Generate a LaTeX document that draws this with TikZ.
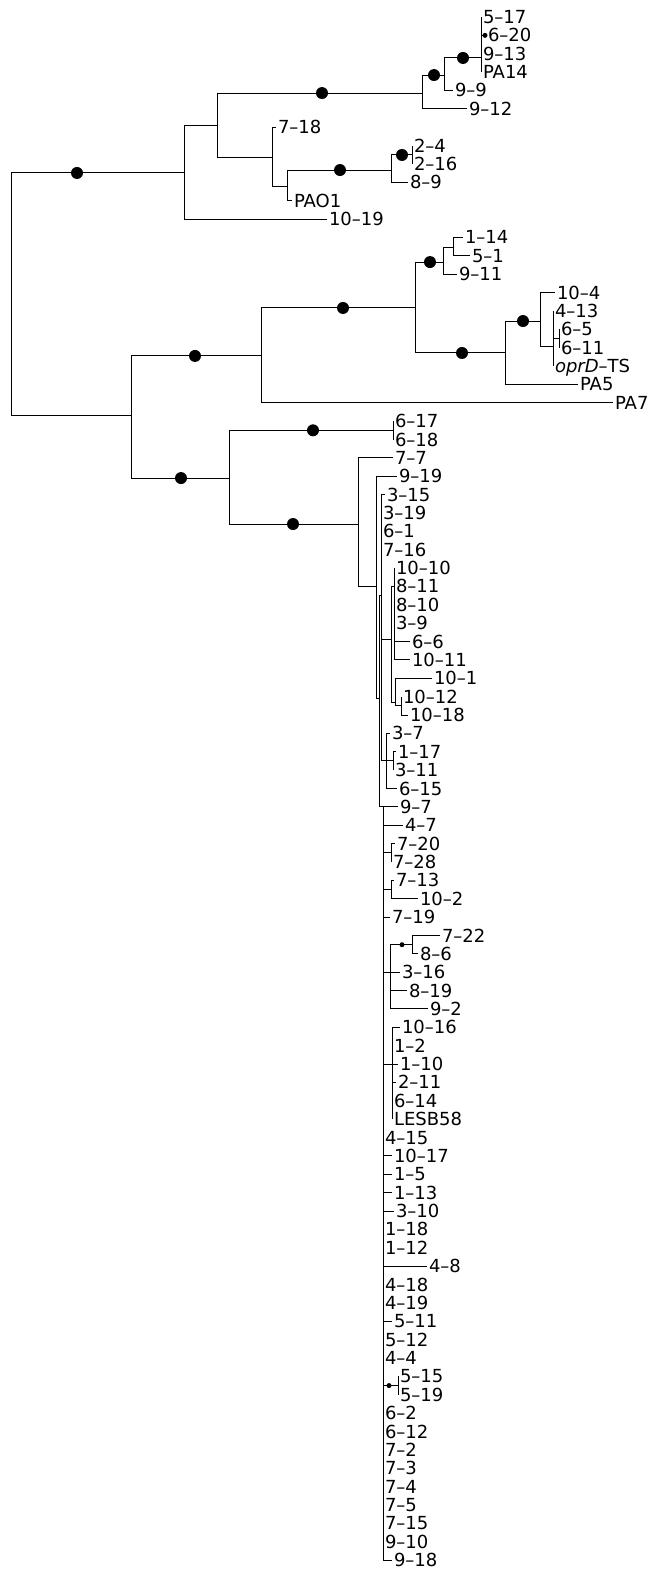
\documentclass[tikz,border=0pt]{standalone}
\usepackage{fontspec}
\setmainfont{DejaVu Sans}

\begin{document}
\begin{tikzpicture}[x=1pt, y=-18.37pt, line width=1pt,
  leaf/.style={anchor=west, inner sep=1.5pt, font=\fontsize{18}{18}\selectfont,
    text height=13pt, text depth=0pt}]
  \useasboundingbox (0,0.0746) rectangle (653,85.54);

  % internal nodes (x in px, y in leaf rows)
  \coordinate (R0) at (11,16);
  \coordinate (A)  at (184,9.49);
  \coordinate (A1) at (217,6.88);
  \coordinate (A2) at (422,5.14);
  \coordinate (A4) at (444,4.16);
  \coordinate (A5) at (481,3.23);
  \coordinate (A3) at (272,8.67);
  \coordinate (A6) at (287,10.25);
  \coordinate (A7) at (391,9.33);
  \coordinate (A8) at (412,8.51);
  \coordinate (B)  at (131,22.67);
  \coordinate (B1) at (261,19.45);
  \coordinate (B3) at (415,16.84);
  \coordinate (B4) at (443,14.34);
  \coordinate (B6) at (453,13.57);
  \coordinate (B5) at (505,19.29);
  \coordinate (B7) at (540,17.55);
  \coordinate (B8) at (553,18.96);
  \coordinate (B9) at (559,18.5);
  \coordinate (B2) at (229,26.1);
  \coordinate (C1) at (393,23.5);
  \coordinate (C2) at (358,28.6);
  \coordinate (D1) at (376,32);
  \coordinate (D2) at (379,38.1);
  \coordinate (D3) at (381,32.5);
  \coordinate (D4) at (391,34.9);
  \coordinate (D5) at (394,32);
  \coordinate (D6) at (395,38.3);
  \coordinate (D7) at (401,38.5);
  \coordinate (E1) at (386,41.5);
  \coordinate (E8) at (393,41.5);
  \coordinate (S0) at (383,44);
  \coordinate (E2) at (391,46.5);
  \coordinate (E3) at (391,48.5);
  \coordinate (E4) at (390,53);
  \coordinate (E7) at (412,51.5);
  \coordinate (E5) at (392,58);
  \coordinate (E6) at (398,75.5);

  % branches between internal nodes
  \draw (R0) |- (A);  \draw (R0) |- (B);
  \draw (A) |- (A1);
  \draw (A1) |- (A2); \draw (A1) |- (A3);
  \draw (A2) |- (A4); \draw (A4) |- (A5);
  \draw (A3) |- (A6); \draw (A6) |- (A7); \draw (A7) |- (A8);
  \draw (B) |- (B1);  \draw (B) |- (B2);
  \draw (B1) |- (B3); \draw (B3) |- (B4); \draw (B3) |- (B5);
  \draw (B4) |- (B6); \draw (B5) |- (B7); \draw (B7) |- (B8); \draw (B8) |- (B9);
  \draw (B2) |- (C1); \draw (B2) |- (C2);
  \draw (C2) |- (D1); \draw (D1) |- (D2); \draw (D2) |- (D3); \draw (D2) |- (S0);
  \draw (D3) |- (D4); \draw (D3) |- (E1);
  \draw (D4) |- (D5); \draw (D4) |- (D6); \draw (D6) |- (D7);
  \draw (E1) |- (E8);
  \draw (S0) |- (E2); \draw (S0) |- (E3); \draw (S0) |- (E4);
  \draw (S0) |- (E5); \draw (S0) |- (E6);
  \draw (E4) |- (E7);

  % leaves: row/tip x/label, per parent
  \foreach \r/\x/\lab in {1/481/5--17, 2/486/6--20, 3/481/9--13, 4/481/PA14}
    {\node[leaf] (l\r) at (\x,\r) {\lab}; \draw (A5) |- (l\r.west);}
  \node[leaf] (l5) at (453,5) {9--9};    \draw (A4) |- (l5.west);
  \node[leaf] (l6) at (467,6) {9--12};   \draw (A2) |- (l6.west);
  \node[leaf] (l7) at (276,7) {7--18};   \draw (A3) |- (l7.west);
  \foreach \r/\x/\lab in {8/412/2--4, 9/412/2--16}
    {\node[leaf] (l\r) at (\x,\r) {\lab}; \draw (A8) |- (l\r.west);}
  \node[leaf] (l10) at (408,10) {8--9};  \draw (A7) |- (l10.west);
  \node[leaf] (l11) at (292,11) {PAO1};  \draw (A6) |- (l11.west);
  \node[leaf] (l12) at (327,12) {10--19}; \draw (A) |- (l12.west);
  \foreach \r/\x/\lab in {13/463/1--14, 14/470/5--1}
    {\node[leaf] (l\r) at (\x,\r) {\lab}; \draw (B6) |- (l\r.west);}
  \node[leaf] (l15) at (457,15) {9--11}; \draw (B4) |- (l15.west);
  \node[leaf] (l16) at (555,16) {10--4}; \draw (B7) |- (l16.west);
  \foreach \r/\x/\lab in {17/553/4--13, 20/553/\textit{oprD}--TS}
    {\node[leaf] (l\r) at (\x,\r) {\lab}; \draw (B8) |- (l\r.west);}
  \foreach \r/\x/\lab in {18/559/6--5, 19/559/6--11}
    {\node[leaf] (l\r) at (\x,\r) {\lab}; \draw (B9) |- (l\r.west);}
  \node[leaf] (l21) at (578,21) {PA5};   \draw (B5) |- (l21.west);
  \node[leaf] (l22) at (613,22) {PA7};   \draw (B1) |- (l22.west);
  \foreach \r/\x/\lab in {23/393/6--17, 24/393/6--18}
    {\node[leaf] (l\r) at (\x,\r) {\lab}; \draw (C1) |- (l\r.west);}
  \node[leaf] (l25) at (393,25) {7--7};  \draw (C2) |- (l25.west);
  \node[leaf] (l26) at (397,26) {9--19}; \draw (D1) |- (l26.west);
  \foreach \r/\x/\lab in {27/385/3--15, 28/381/3--19, 29/381/6--1, 30/381/7--16}
    {\node[leaf] (l\r) at (\x,\r) {\lab}; \draw (D3) |- (l\r.west);}
  \foreach \r/\x/\lab in {31/394/10--10, 32/394/8--11, 33/394/8--10, 34/394/3--9,
      35/410/6--6, 36/410/10--11}
    {\node[leaf] (l\r) at (\x,\r) {\lab}; \draw (D5) |- (l\r.west);}
  \node[leaf] (l37) at (432,37) {10--1}; \draw (D6) |- (l37.west);
  \foreach \r/\x/\lab in {38/401/10--12, 39/408/10--18}
    {\node[leaf] (l\r) at (\x,\r) {\lab}; \draw (D7) |- (l\r.west);}
  \foreach \r/\x/\lab in {40/390/3--7, 43/397/6--15}
    {\node[leaf] (l\r) at (\x,\r) {\lab}; \draw (E1) |- (l\r.west);}
  \foreach \r/\x/\lab in {41/396/1--17, 42/393/3--11}
    {\node[leaf] (l\r) at (\x,\r) {\lab}; \draw (E8) |- (l\r.west);}
  \foreach \r/\x/\lab in {46/395/7--20, 47/391/7--28}
    {\node[leaf] (l\r) at (\x,\r) {\lab}; \draw (E2) |- (l\r.west);}
  \foreach \r/\x/\lab in {48/394/7--13, 49/418/10--2}
    {\node[leaf] (l\r) at (\x,\r) {\lab}; \draw (E3) |- (l\r.west);}
  \foreach \r/\x/\lab in {51/440/7--22, 52/418/8--6}
    {\node[leaf] (l\r) at (\x,\r) {\lab}; \draw (E7) |- (l\r.west);}
  \foreach \r/\x/\lab in {53/400/3--16, 54/407/8--19, 55/428/9--2}
    {\node[leaf] (l\r) at (\x,\r) {\lab}; \draw (E4) |- (l\r.west);}
  \foreach \r/\x/\lab in {56/400/10--16, 57/392/1--2, 58/398/1--10, 59/396/2--11,
      60/392/6--14, 61/392/LESB58}
    {\node[leaf] (l\r) at (\x,\r) {\lab}; \draw (E5) |- (l\r.west);}
  \foreach \r/\x/\lab in {75/398/5--15, 76/398/5--19}
    {\node[leaf] (l\r) at (\x,\r) {\lab}; \draw (E6) |- (l\r.west);}
  \foreach \r/\x/\lab in {44/398/9--7, 45/403/4--7, 50/390/7--19, 62/383/4--15,
      63/392/10--17, 64/392/1--5, 65/392/1--13, 66/394/3--10, 67/383/1--18,
      68/383/1--12, 69/427/4--8, 70/383/4--18, 71/383/4--19, 72/392/5--11,
      73/383/5--12, 74/383/4--4, 77/383/6--2, 78/383/6--12, 79/383/7--2,
      80/383/7--3, 81/383/7--4, 82/383/7--5, 83/383/7--15, 84/383/9--10,
      85/392/9--18}
    {\node[leaf] (l\r) at (\x,\r) {\lab}; \draw (S0) |- (l\r.west);}

  % support dots
  \fill (A -| 77,0) circle (6pt);
  \fill (A2 -| 322,0) circle (6pt);
  \fill (A4 -| 434,0) circle (6pt);
  \fill (A5 -| 463,0) circle (6pt);
  \fill (A7 -| 340,0) circle (6pt);
  \fill (A8 -| 402,0) circle (6pt);
  \fill (B1 -| 195,0) circle (6pt);
  \fill (B3 -| 343,0) circle (6pt);
  \fill (B4 -| 430,0) circle (6pt);
  \fill (B5 -| 462,0) circle (6pt);
  \fill (B7 -| 523,0) circle (6pt);
  \fill (B2 -| 181,0) circle (6pt);
  \fill (C1 -| 313,0) circle (6pt);
  \fill (C2 -| 293,0) circle (6pt);
  \fill (l2 -| 485,0) circle (2.5pt);
  \fill (E7 -| 402,0) circle (2.5pt);
  \fill (E6 -| 389,0) circle (2.5pt);
\end{tikzpicture}
\end{document}
